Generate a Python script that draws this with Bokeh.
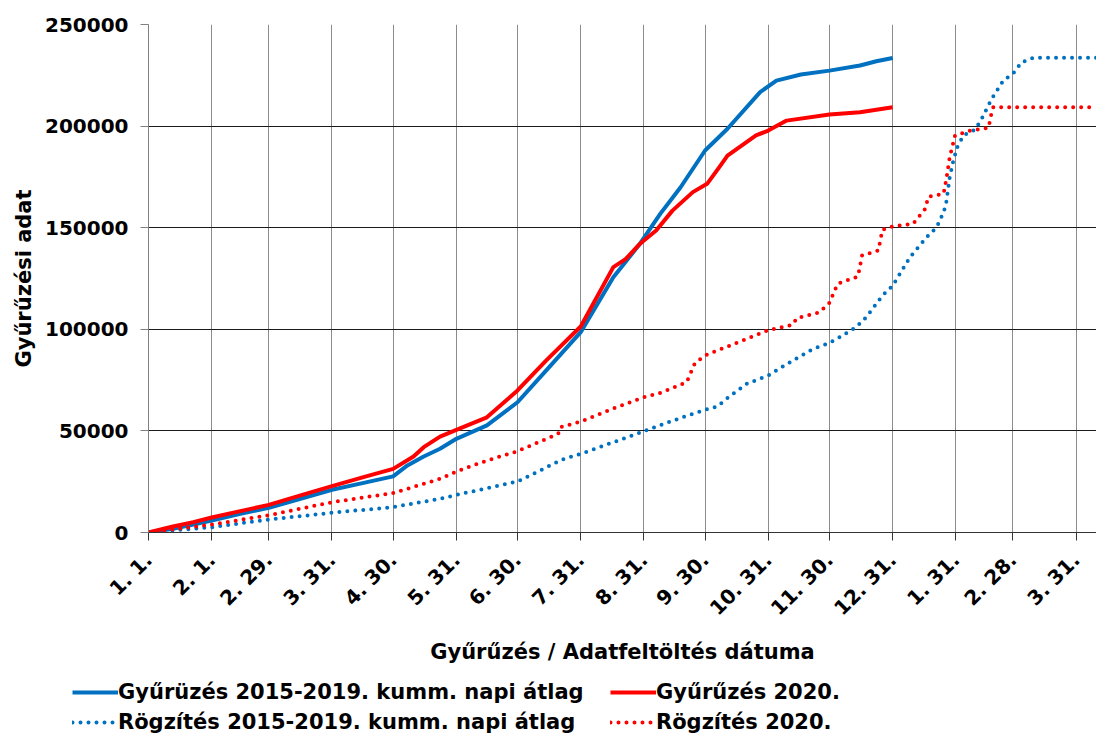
import math
from bokeh.plotting import figure
from bokeh.layouts import column
from bokeh.models import Range1d, FixedTicker, Legend, LegendItem, BasicTickFormatter
from bokeh.embed import file_html
from bokeh.resources import INLINE

# ---------------- data (day 0 = 2020-01-01) ----------------
tick_days = [0, 31, 59, 90, 120, 151, 181, 212, 243, 273, 304, 334, 365, 396, 424, 455]
tick_labels = ["1. 1.", "2. 1.", "2. 29.", "3. 31.", "4. 30.", "5. 31.", "6. 30.", "7. 31.",
               "8. 31.", "9. 30.", "10. 31.", "11. 30.", "12. 31.", "1. 31.", "2. 28.", "3. 31."]
y_ticks = [0, 50000, 100000, 150000, 200000, 250000]

gy_avg_days = [0, 12, 22, 31, 45, 59, 75, 90, 105, 120, 127, 135, 143, 151, 166, 181, 195, 212,
               228, 241, 251, 261, 273, 284, 300, 308, 320, 334, 349, 357, 365]
gy_avg_vals = [0, 1800, 3900, 5900, 9200, 12100, 16700, 21000, 24300, 27600, 33000, 37400, 41200,
               46100, 52700, 64100, 79700, 98600, 125600, 142000, 156800, 169900, 188000, 198700,
               216700, 222400, 225400, 227300, 229800, 231900, 233500]

gy_2020_days = [0, 12, 22, 31, 45, 59, 75, 90, 105, 120, 130, 135, 143, 151, 166, 181, 195, 212,
                228, 234, 241, 243, 249, 257, 267, 274, 280, 284, 298, 304, 313, 334, 349, 365]
gy_2020_vals = [0, 2950, 5100, 7400, 10500, 13600, 18400, 22800, 27100, 31300, 37400, 42000, 47200,
                50500, 56700, 69900, 84600, 101400, 130600, 134500, 142000, 143700, 148600, 158400,
                167500, 171600, 179800, 185500, 195400, 197800, 202700, 205700, 206800, 209300]

rg_avg_days = [0, 31, 59, 90, 120, 143, 151, 181, 203, 212, 243, 252, 261, 273, 279, 284.5, 293.5,
               304, 309, 316, 326, 334, 339, 347, 352, 360, 365, 373.5, 381.7, 386.6, 390, 391.2,
               393, 394.8, 396.7, 399.7, 405.4, 408.7, 413.6, 419.3, 424.2, 428.3, 434, 465]
rg_avg_vals = [0, 2600, 6400, 9700, 12500, 16600, 18500, 25100, 35900, 38700, 49800, 53100, 56400,
               60400, 62000, 66600, 73200, 77300, 80400, 84600, 90400, 93300, 96100, 101000, 105900,
               116600, 121400, 135500, 145300, 150200, 157600, 161700, 174800, 183100, 189600,
               195400, 198200, 203600, 213400, 222400, 226000, 231400, 233600, 233600]

rg_2020_days = [0, 31, 59, 90, 120, 143, 151, 166, 181, 201, 202, 212, 228, 243, 252, 261, 264, 268,
                273, 304, 316, 318, 329, 334, 338, 348, 350, 358, 360, 365, 375, 381, 382.5, 390,
                391.5, 393, 395.6, 403, 412, 413.6, 414.4, 465]
rg_2020_vals = [0, 3900, 8500, 14900, 19400, 26400, 30000, 35400, 40000, 48600, 51800, 54600, 61000,
                66600, 69000, 72800, 74000, 83300, 87100, 99600, 102200, 105500, 108300, 113000,
                122400, 126000, 136300, 138800, 149000, 150600, 151900, 159300, 165300, 166700,
                174800, 184700, 195400, 197800, 199100, 206800, 209300, 209300]

series_names = ["Gyűrüzés 2015-2019. kumm. napi átlag", "Gyűrűzés 2020.",
                "Rögzítés 2015-2019. kumm. napi átlag", "Rögzítés 2020."]

BLUE = "#0070C0"
RED = "#FF0000"
FONT = "DejaVu Sans"

p = figure(width=1096, height=668, x_range=Range1d(0, 465), y_range=Range1d(0, 250000),
           output_backend="svg", toolbar_location=None,
           min_border_left=148, min_border_right=0, min_border_top=24, min_border_bottom=136)
p.outline_line_color = None

# grid
p.xgrid.ticker = FixedTicker(ticks=tick_days)
p.xgrid.grid_line_color = "#8c8c8c"
p.xgrid.grid_line_width = 1
p.ygrid.ticker = FixedTicker(ticks=y_ticks)
p.ygrid.grid_line_color = "#1a1a1a"
p.ygrid.grid_line_width = 1

# axes
xa = p.xaxis[0]
xa.ticker = FixedTicker(ticks=tick_days)
xa.major_label_overrides = {d: l for d, l in zip(tick_days, tick_labels)}
xa.major_label_orientation = math.pi / 4
xa.axis_label = "Gyűrűzés / Adatfeltöltés dátuma"
ya = p.yaxis[0]
ya.ticker = FixedTicker(ticks=y_ticks)
ya.formatter = BasicTickFormatter(use_scientific=False)
ya.axis_label = "Gyűrűzési adat"

for ax in (xa, ya):
    ax.major_label_text_font = FONT
    ax.major_label_text_font_style = "bold"
    ax.major_label_text_font_size = "20px"
    ax.major_label_text_color = "black"
    ax.axis_label_text_font = FONT
    ax.axis_label_text_font_style = "bold"
    ax.axis_label_text_font_size = "21px"
    ax.axis_label_text_color = "black"
    ax.minor_tick_line_color = None
    ax.major_tick_in = 0
    ax.major_tick_out = 8
    ax.major_label_standoff = 12
xa.major_label_standoff = 16
xa.axis_line_color = "#333333"
xa.major_tick_line_color = "#333333"
ya.axis_line_color = "#808080"
ya.major_tick_line_color = "#808080"
ya.axis_label_standoff = 6
xa.axis_label_standoff = 9

# lines
styles = [dict(line_color=BLUE, line_width=4, line_join="round"),
          dict(line_color=RED, line_width=4, line_join="round"),
          dict(line_color=BLUE, line_width=4, line_dash="0 8", line_cap="round"),
          dict(line_color=RED, line_width=4, line_dash="0 8", line_cap="round")]
p.line(gy_avg_days, gy_avg_vals, **styles[0])
p.line(gy_2020_days, gy_2020_vals, **styles[1])
p.line(rg_avg_days, rg_avg_vals, **styles[2])
p.line(rg_2020_days, rg_2020_vals, **styles[3])

# ---------------- legend strip ----------------
lf = figure(width=1096, height=72, x_range=Range1d(0, 1), y_range=Range1d(0, 1),
            output_backend="svg", toolbar_location=None, x_axis_type=None, y_axis_type=None,
            min_border=0)
lf.outline_line_color = None
lf.grid.visible = False
for fig in (p, lf):
    try:
        fig.frame_align = False
    except Exception:
        pass
nan = float("nan")
dummies = [lf.line([nan], [nan], **s) for s in styles]


def make_legend(idx, loc):
    lg = Legend(items=[LegendItem(label=series_names[i], renderers=[dummies[i]]) for i in idx],
                location=loc, orientation="vertical")
    lg.label_text_font = FONT
    lg.label_text_font_style = "bold"
    lg.label_text_font_size = "21px"
    lg.label_text_color = "black"
    lg.glyph_width = 46
    lg.glyph_height = 24
    lg.label_height = 24
    lg.label_standoff = 0
    lg.spacing = 6
    lg.padding = 0
    lg.margin = 0
    lg.border_line_color = None
    lg.background_fill_alpha = 0
    return lg


lf.add_layout(make_legend([0, 2], (72, 6)), "center")
lf.add_layout(make_legend([1, 3], (610, 6)), "center")

layout = column(p, lf, spacing=0)
open("out.html", "w").write(file_html(layout, INLINE))
